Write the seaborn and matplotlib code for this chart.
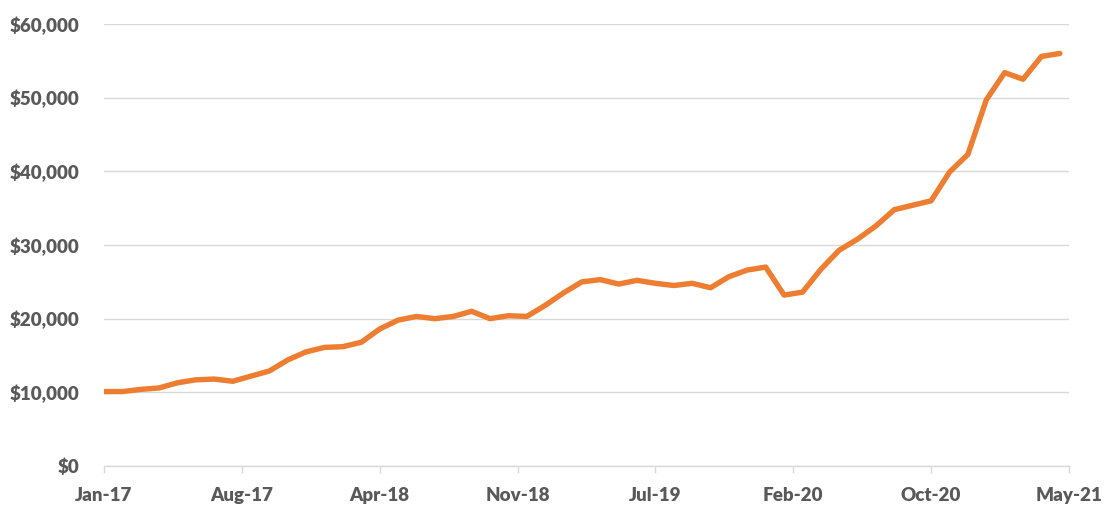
import numpy as np
import pandas as pd
import matplotlib
matplotlib.use("Agg")
import matplotlib.pyplot as plt
import seaborn as sns
from matplotlib.ticker import FuncFormatter

# ---- data ----
months = pd.date_range("2017-01-01", "2021-05-01", freq="MS")
values = [10100, 10100, 10400, 10600, 11300, 11700, 11800, 11500, 12200, 12900,
          14400, 15500, 16100, 16200, 16800, 18600, 19800, 20300, 20000, 20300,
          21000, 20000, 20400, 20300, 21800, 23500, 25000, 25300, 24700, 25200,
          24800, 24500, 24800, 24200, 25700, 26600, 27000, 23200, 23600, 26700,
          29300, 30800, 32600, 34800, 35400, 36000, 39900, 42300, 49700, 53400,
          52500, 55600, 56000]
tick_labels = ["Jan-17", "Aug-17", "Apr-18", "Nov-18", "Jul-19", "Feb-20", "Oct-20", "May-21"]
y_ticks = [0, 10000, 20000, 30000, 40000, 50000, 60000]

df = pd.DataFrame({"idx": np.arange(len(values)), "value": values, "month": months})

sns.set_theme(style="white")
plt.rcParams["font.family"] = ["Lato", "DejaVu Sans"]

fig = plt.figure(figsize=(11.11, 5.12), dpi=100)
ax = fig.add_axes([104/1111, 1 - 466/512, (1069 - 104)/1111, (466 - 24)/512])

sns.lineplot(data=df, x="idx", y="value", ax=ax, color="#ED7D31", linewidth=3.9,
             solid_capstyle="round", solid_joinstyle="round", zorder=3)

x_end = 52.5
ax.set_xlim(0, x_end)
ax.set_ylim(0, 60000)
ax.set_xticks(np.linspace(0, x_end, len(tick_labels)))
ax.set_xticklabels(tick_labels)
ax.set_yticks(y_ticks)
ax.yaxis.set_major_formatter(FuncFormatter(lambda v, p: f"${int(v):,}"))

ax.grid(axis="y", color="#D9D9D9", linewidth=1.0, zorder=0)
ax.grid(axis="x", visible=False)
for s in ["top", "right", "left"]:
    ax.spines[s].set_visible(False)
ax.spines["bottom"].set_color("#D9D9D9")
ax.spines["bottom"].set_linewidth(1.0)

ax.tick_params(axis="x", which="major", bottom=True, length=5, width=1.0, color="#D9D9D9",
               pad=10, labelsize=13.5, labelcolor="#595959")
ax.tick_params(axis="y", which="major", left=False, length=0, pad=18,
               labelsize=13.5, labelcolor="#595959")
for lab in ax.get_xticklabels() + ax.get_yticklabels():
    lab.set_fontweight("heavy")

ax.set_xlabel("")
ax.set_ylabel("")

fig.savefig("out.png", dpi=100)
